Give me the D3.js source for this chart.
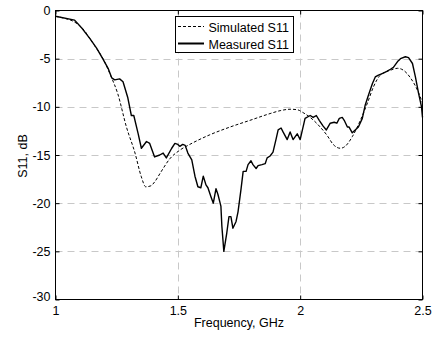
<!DOCTYPE html>
<html>
<head>
<meta charset="utf-8">
<script src="https://cdn.jsdelivr.net/npm/d3@7"></script>
<style>
html,body{margin:0;padding:0;background:#fff;}
svg{display:block;}
text{font-family:"Liberation Sans",Arial,Helvetica,sans-serif;font-size:12.5px;fill:#000;}
</style>
</head>
<body>
<svg id="chart" width="436" height="337"></svg>
<script>
const xTicks = [1, 1.5, 2, 2.5];
const xTickLabels = ["1", "1.5", "2", "2.5"];
const yTicks = [-30, -25, -20, -15, -10, -5, 0];
const yTickLabels = ["-30", "-25", "-20", "-15", "-10", "-5", "0"];
const seriesNames = ["Simulated S11", "Measured S11"];

const simFreq = [1.0,1.035,1.071,1.112,1.153,1.194,1.228,1.254,1.29,1.325,1.35,1.369,1.39,1.405,1.43,1.467,1.508,1.549,1.631,1.713,1.795,1.877,1.918,1.959,1.988,2.012,2.041,2.082,2.111,2.135,2.164,2.184,2.213,2.246,2.275,2.30,2.328,2.369,2.398,2.422,2.451,2.48,2.5];
const simS11 = [-0.6,-0.8,-1.1,-1.9,-3.4,-5.0,-6.9,-8.6,-12.1,-14.8,-17.2,-18.3,-18.2,-17.8,-16.8,-15.4,-14.5,-13.9,-12.9,-12.1,-11.4,-10.7,-10.4,-10.25,-10.3,-10.6,-11.1,-12.1,-13.0,-13.9,-14.3,-14.1,-13.1,-11.4,-9.6,-7.9,-6.7,-6.2,-6.0,-6.2,-7.0,-8.3,-9.6];

const measFreq = [1.0,1.078,1.11,1.14,1.168,1.193,1.215,1.23,1.242,1.262,1.276,1.295,1.31,1.32,1.338,1.351,1.372,1.385,1.405,1.426,1.44,1.453,1.475,1.488,1.5,1.508,1.52,1.53,1.541,1.557,1.57,1.582,1.594,1.604,1.615,1.623,1.635,1.645,1.656,1.664,1.676,1.68,1.688,1.70,1.709,1.717,1.725,1.738,1.746,1.758,1.767,1.779,1.787,1.799,1.807,1.82,1.828,1.844,1.857,1.865,1.877,1.889,1.902,1.91,1.922,1.93,1.947,1.959,1.971,1.988,2.0,2.02,2.041,2.053,2.066,2.078,2.094,2.107,2.123,2.139,2.15,2.16,2.172,2.18,2.193,2.2,2.213,2.225,2.238,2.254,2.266,2.279,2.295,2.307,2.32,2.34,2.356,2.369,2.381,2.398,2.41,2.43,2.443,2.459,2.471,2.484,2.496,2.5];
const measS11 = [-0.6,-1.0,-1.9,-2.9,-3.9,-5.0,-6.0,-7.0,-7.2,-7.1,-7.4,-9.0,-10.9,-10.9,-12.8,-14.3,-13.6,-13.8,-15.2,-15.0,-14.8,-15.3,-14.3,-13.8,-13.9,-14.1,-13.9,-14.0,-14.8,-15.5,-17.2,-18.3,-18.4,-17.2,-18.1,-18.4,-19.3,-20.0,-18.5,-19.1,-20.3,-22.4,-25.0,-23.1,-21.4,-21.4,-22.6,-21.9,-20.9,-18.6,-16.7,-16.7,-16.0,-15.6,-16.0,-16.4,-16.1,-16.0,-15.9,-15.3,-15.1,-14.7,-13.3,-12.4,-12.2,-12.6,-13.4,-12.6,-13.4,-12.8,-13.4,-11.2,-10.9,-11.1,-10.9,-11.4,-12.0,-12.4,-11.7,-11.6,-11.7,-11.2,-11.1,-11.4,-12.1,-12.1,-12.7,-12.4,-12.1,-11.2,-9.8,-8.8,-7.6,-6.9,-6.7,-6.5,-6.3,-6.1,-5.9,-5.3,-5.0,-4.8,-4.9,-5.5,-6.9,-8.6,-10.0,-11.1];

const svg = d3.select("#chart");
const L = 55.5, R = 422.5, T = 10.5, B = 299.5;
const x = d3.scaleLinear().domain([1, 2.5]).range([L, R]);
const y = d3.scaleLinear().domain([-30, 0]).range([B, T]);

svg.append("rect").attr("width", 436).attr("height", 337).attr("fill", "#fff");

// grid
const grid = svg.append("g").attr("stroke", "#c8c8c8").attr("stroke-width", 1).attr("stroke-dasharray", "7,5");
xTicks.slice(1, -1).forEach(v => {
  grid.append("line").attr("x1", Math.round(x(v)) + 0.5).attr("x2", Math.round(x(v)) + 0.5).attr("y1", T).attr("y2", B);
});
yTicks.slice(1, -1).forEach(v => {
  grid.append("line").attr("x1", L).attr("x2", R).attr("y1", Math.round(y(v)) + 0.5).attr("y2", Math.round(y(v)) + 0.5);
});

// axes with inward ticks
const fmtX = (d, i) => xTickLabels[i];
const fmtY = (d, i) => yTickLabels[i];
const gBottom = svg.append("g").attr("transform", `translate(0,${B})`)
  .call(d3.axisBottom(x).tickValues(xTicks).tickFormat(fmtX).tickSizeInner(-4).tickSizeOuter(0).tickPadding(7));
const gTop = svg.append("g").attr("transform", `translate(0,${T})`)
  .call(d3.axisTop(x).tickValues(xTicks).tickFormat("").tickSizeInner(-4).tickSizeOuter(0));
const gLeft = svg.append("g").attr("transform", `translate(${L},0)`)
  .call(d3.axisLeft(y).tickValues(yTicks).tickFormat(fmtY).tickSizeInner(-4).tickSizeOuter(0).tickPadding(5));
const gRight = svg.append("g").attr("transform", `translate(${R},0)`)
  .call(d3.axisRight(y).tickValues(yTicks).tickFormat("").tickSizeInner(-4).tickSizeOuter(0));
[gBottom, gTop, gLeft, gRight].forEach(g => {
  g.select(".domain").remove();
  g.selectAll("line").attr("stroke", "#000");
  g.selectAll("text").attr("font-family", '"Liberation Sans",Arial,sans-serif').attr("fill", "#000");
});
gBottom.selectAll("text").attr("font-size", 12.5);
gLeft.selectAll("text").attr("font-size", 12).attr("dy", "0.32em");
gLeft.selectAll(".tick").filter(d => d === -30).select("text").attr("dy", "0.1em");

// lines
const simData = simFreq.map((f, i) => [f, simS11[i]]);
const measData = measFreq.map((f, i) => [f, measS11[i]]);
svg.append("path").datum(simData)
  .attr("fill", "none").attr("stroke", "#000").attr("stroke-width", 1).attr("stroke-dasharray", "3,2")
  .attr("d", d3.line().x(d => x(d[0])).y(d => y(d[1])).curve(d3.curveMonotoneX));
svg.append("path").datum(measData)
  .attr("fill", "none").attr("stroke", "#000").attr("stroke-width", 1.4).attr("stroke-linejoin", "round")
  .attr("d", d3.line().x(d => x(d[0])).y(d => y(d[1])));

// frame
svg.append("rect").attr("x", L).attr("y", T).attr("width", R - L).attr("height", B - T)
  .attr("fill", "none").attr("stroke", "#000").attr("stroke-width", 1);

// legend
const lg = svg.append("g");
lg.append("rect").attr("x", 175.5).attr("y", 16.5).attr("width", 118).attr("height", 36)
  .attr("fill", "#fff").attr("stroke", "#000").attr("stroke-width", 1);
lg.append("line").attr("x1", 178).attr("x2", 204).attr("y1", 26.5).attr("y2", 26.5)
  .attr("stroke", "#000").attr("stroke-width", 1).attr("stroke-dasharray", "3,2");
lg.append("line").attr("x1", 178).attr("x2", 204).attr("y1", 43.5).attr("y2", 43.5)
  .attr("stroke", "#000").attr("stroke-width", 2);
lg.append("text").attr("x", 208.5).attr("y", 31.5).text(seriesNames[0]);
lg.append("text").attr("x", 208.5).attr("y", 48.5).text(seriesNames[1]);

// axis titles
svg.append("text").attr("x", 239).attr("y", 327).attr("text-anchor", "middle").text("Frequency, GHz");
svg.append("text").attr("transform", "translate(27,156) rotate(-90)").attr("text-anchor", "middle").text("S11, dB");
</script>
</body>
</html>
